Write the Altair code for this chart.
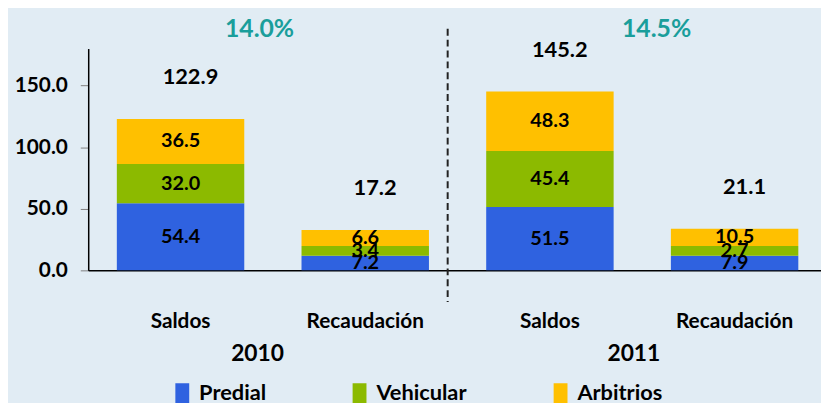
import altair as alt
import pandas as pd

FONT = "Lato"

keys = ["Saldos 2010", "Recaudación 2010", "Saldos 2011", "Recaudación 2011"]
series = ["Predial", "Vehicular", "Arbitrios"]
colors = ["#2f62e0", "#8cba00", "#ffc000"]
# bar heights as drawn in the picture
predial_h = [54.4, 11.8, 51.5, 11.8]
vehicular_h = [32.0, 8.0, 45.4, 8.0]
arbitrios_h = [36.5, 13.0, 48.3, 14.0]
# printed labels
predial_lbl = ["54.4", "7.2", "51.5", "7.9"]
vehicular_lbl = ["32.0", "3.4", "45.4", "2.7"]
arbitrios_lbl = ["36.5", "6.6", "48.3", "10.5"]
total_lbl = ["122.9", "17.2", "145.2", "21.1"]
years = ["2010", "2011"]
growth = ["14.0%", "14.5%"]
y_ticks = [0, 50, 100, 150]

rows = []
for i, k in enumerate(keys):
    hs = [predial_h[i], vehicular_h[i], arbitrios_h[i]]
    ls = [predial_lbl[i], vehicular_lbl[i], arbitrios_lbl[i]]
    for j, s in enumerate(series):
        rows.append(dict(key=k, serie=s, ord=j, h=hs[j], lbl=ls[j]))
df = pd.DataFrame(rows)
tot = pd.DataFrame({
    "key": keys,
    "top": [p + v + a for p, v, a in zip(predial_h, vehicular_h, arbitrios_h)],
    "lbl": total_lbl,
})

xenc = alt.X(
    "key:N", sort=keys, title=None,
    scale=alt.Scale(range=[0, 746], paddingInner=0.31, paddingOuter=0.155),
    axis=alt.Axis(labelExpr="split(datum.label, ' ')[0]", labelAngle=0, ticks=False,
                  labelPadding=41, labelFontSize=21, labelFont=FONT, labelFontWeight="bold",
                  labelColor="black", domainColor="black", domainWidth=1.5),
)
yscale = alt.Scale(domain=[0, 180])
yaxis = alt.Axis(values=y_ticks, format=".1f", grid=False, tickSize=8, tickColor="#808080",
                 domainColor="black", domainWidth=1.5, labelFontSize=21, labelFont=FONT,
                 labelFontWeight="bold", labelColor="black", labelPadding=13)

base = alt.Chart(df).transform_stack(
    stack="h", groupby=["key"], as_=["y0", "y1"], sort=[alt.SortField("ord", order="ascending")]
).transform_calculate(mid="(datum.y0 + datum.y1) / 2")

bars = base.mark_bar().encode(
    x=xenc,
    y=alt.Y("y0:Q", scale=yscale, axis=yaxis, title=None),
    y2="y1:Q",
    color=alt.Color(
        "serie:N", scale=alt.Scale(domain=series, range=colors),
        legend=alt.Legend(title=None, orient="none", legendX=84, legendY=337,
                          direction="horizontal", symbolType="M-0.7,-1H0.7V1H-0.7Z",
                          symbolSize=400, symbolStrokeWidth=0, symbolOpacity=1,
                          labelFontSize=22, labelFont=FONT, labelFontWeight="bold",
                          labelColor="black", labelOffset=6, columnPadding=83, padding=0),
    ),
    order=alt.Order("ord:Q"),
)

seg = base.mark_text(fontSize=20, font=FONT, fontWeight="bold", color="black",
                     baseline="middle").encode(
    x=alt.X("key:N", sort=keys), y=alt.Y("mid:Q"), text="lbl:N")

totals = alt.Chart(tot).mark_text(fontSize=22, font=FONT, fontWeight="bold", color="black",
                                  baseline="middle", dy=-42, dx=10).encode(
    x=alt.X("key:N", sort=keys), y=alt.Y("top:Q"), text="lbl:N")

sep = alt.Chart(pd.DataFrame({"a": [0]})).mark_rule(
    color="#222222", strokeWidth=2, strokeDash=[7, 4]).encode(
    x=alt.value(363), y=alt.value(-20), y2=alt.value(256))

year_x = [171, 551]
pct_x = [173, 574]
extra = []
for i in range(2):
    extra.append(alt.Chart(pd.DataFrame({"t": [years[i]]})).mark_text(
        fontSize=23, font=FONT, fontWeight="bold", color="black", baseline="middle").encode(
        x=alt.value(year_x[i]), y=alt.value(309), text="t:N"))
    extra.append(alt.Chart(pd.DataFrame({"t": [growth[i]]})).mark_text(
        fontSize=25, font=FONT, fontWeight="bold", color="#1a9e9b", baseline="middle").encode(
        x=alt.value(pct_x[i]), y=alt.value(-20), text="t:N"))

chart = alt.layer(bars, seg, totals, sep, *extra).properties(
    width=740, height=224,
    autosize=alt.AutoSizeParams(type="none"),
    padding={"left": 81, "top": 39, "right": 0, "bottom": 132},
    background="#e1ecf4",
).configure_view(stroke="transparent")

chart.save("out.html", embed_options={"renderer": "svg", "actions": False})
